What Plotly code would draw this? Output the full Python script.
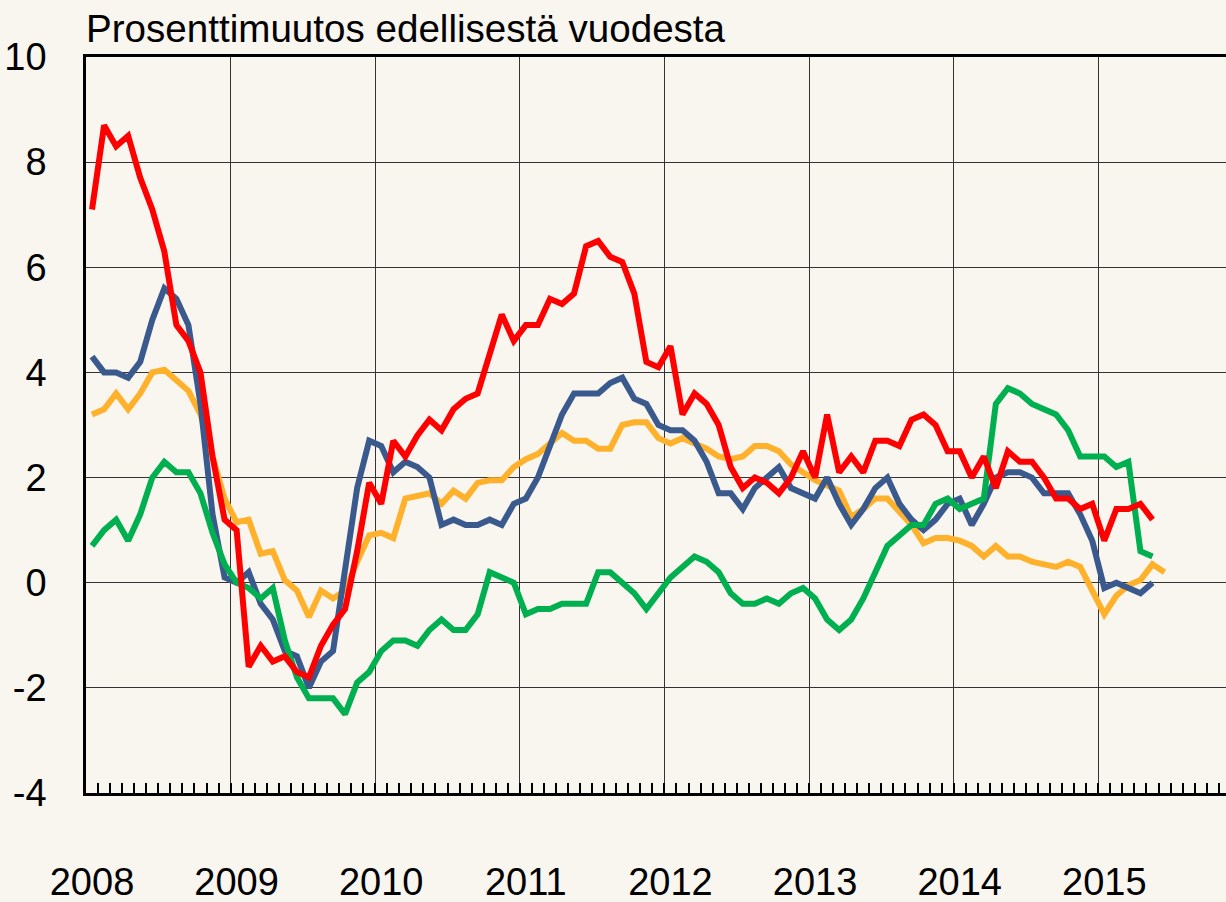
import plotly.graph_objects as go

# Monthly series starting January 2008
red = [7.1, 8.7, 8.3, 8.5, 7.7, 7.1, 6.3, 4.9, 4.6, 4.0, 2.4, 1.2,
       1.0, -1.6, -1.2, -1.5, -1.4, -1.7, -1.8, -1.2, -0.8, -0.5, 0.6, 1.9,
       1.5, 2.7, 2.4, 2.8, 3.1, 2.9, 3.3, 3.5, 3.6, 4.4, 5.1, 4.6,
       4.9, 4.9, 5.4, 5.3, 5.5, 6.4, 6.5, 6.2, 6.1, 5.5, 4.2, 4.1,
       4.5, 3.2, 3.6, 3.4, 3.0, 2.2, 1.8, 2.0, 1.9, 1.7, 2.0, 2.5,
       2.0, 3.2, 2.1, 2.4, 2.1, 2.7, 2.7, 2.6, 3.1, 3.2, 3.0, 2.5,
       2.5, 2.0, 2.4, 1.8, 2.5, 2.3, 2.3, 2.0, 1.6, 1.6, 1.4, 1.5,
       0.8, 1.4, 1.4, 1.5, 1.2]

blue = [4.3, 4.0, 4.0, 3.9, 4.2, 5.0, 5.6, 5.4, 4.9, 3.4, 1.3, 0.1,
        0.0, 0.2, -0.4, -0.7, -1.3, -1.4, -2.0, -1.5, -1.3, 0.2, 1.8, 2.7,
        2.6, 2.1, 2.3, 2.2, 2.0, 1.1, 1.2, 1.1, 1.1, 1.2, 1.1, 1.5,
        1.6, 2.0, 2.6, 3.2, 3.6, 3.6, 3.6, 3.8, 3.9, 3.5, 3.4, 3.0,
        2.9, 2.9, 2.7, 2.3, 1.7, 1.7, 1.4, 1.8, 2.0, 2.2, 1.8, 1.7,
        1.6, 2.0, 1.5, 1.1, 1.4, 1.8, 2.0, 1.5, 1.2, 1.0, 1.2, 1.5,
        1.6, 1.1, 1.5, 2.0, 2.1, 2.1, 2.0, 1.7, 1.7, 1.7, 1.3, 0.8,
        -0.1, 0.0, -0.1, -0.2, 0.0]

orange = [3.2, 3.3, 3.6, 3.3, 3.6, 4.0, 4.05, 3.85, 3.65, 3.2, 2.35, 1.6,
          1.15, 1.2, 0.55, 0.6, 0.05, -0.15, -0.65, -0.15, -0.3, -0.15, 0.4, 0.9,
          0.95, 0.85, 1.6, 1.65, 1.7, 1.5, 1.75, 1.6, 1.9, 1.95, 1.95, 2.2,
          2.35, 2.45, 2.65, 2.85, 2.7, 2.7, 2.55, 2.55, 3.0, 3.05, 3.05, 2.75,
          2.65, 2.75, 2.65, 2.55, 2.4, 2.35, 2.4, 2.6, 2.6, 2.5, 2.25, 2.1,
          1.95, 1.85, 1.75, 1.25, 1.4, 1.6, 1.6, 1.35, 1.1, 0.75, 0.85, 0.85,
          0.8, 0.7, 0.5, 0.7, 0.5, 0.5, 0.4, 0.35, 0.3, 0.4, 0.3, -0.15,
          -0.6, -0.25, -0.05, 0.05, 0.35, 0.2]

green = [0.7, 1.0, 1.2, 0.8, 1.3, 2.0, 2.3, 2.1, 2.1, 1.7, 0.95, 0.35,
         0.0, -0.1, -0.3, -0.1, -1.1, -1.8, -2.2, -2.2, -2.2, -2.5, -1.9, -1.7,
         -1.3, -1.1, -1.1, -1.2, -0.9, -0.7, -0.9, -0.9, -0.6, 0.2, 0.1, 0.0,
         -0.6, -0.5, -0.5, -0.4, -0.4, -0.4, 0.2, 0.2, 0.0, -0.2, -0.5, -0.2,
         0.1, 0.3, 0.5, 0.4, 0.2, -0.2, -0.4, -0.4, -0.3, -0.4, -0.2, -0.1,
         -0.3, -0.7, -0.9, -0.7, -0.3, 0.2, 0.7, 0.9, 1.1, 1.1, 1.5, 1.6,
         1.4, 1.5, 1.6, 3.4, 3.7, 3.6, 3.4, 3.3, 3.2, 2.9, 2.4, 2.4,
         2.4, 2.2, 2.3, 0.6, 0.5]

years = ["2008", "2009", "2010", "2011", "2012", "2013", "2014", "2015"]
y_ticks = [-4, -2, 0, 2, 4, 6, 8, 10]
title_text = "Prosenttimuutos edellisestä vuodesta"

FONT = "Liberation Sans, Arial, sans-serif"
BG = "#F9F5EF"


def months(vals):
    return [i + 0.5 for i in range(len(vals))]


fig = go.Figure()
for vals, col in [(orange, "#FFB12B"), (blue, "#3A5A8E"), (green, "#00B050"), (red, "#FF0000")]:
    fig.add_trace(go.Scatter(x=months(vals), y=vals, mode="lines",
                             line=dict(color=col, width=6), showlegend=False,
                             hoverinfo="skip"))

fig.update_layout(
    width=1226, height=902,
    margin=dict(l=86, r=0, t=57, b=109, autoexpand=False),
    paper_bgcolor=BG, plot_bgcolor=BG,
    font=dict(family=FONT, size=38, color="black"),
    annotations=[dict(text=title_text, xref="paper", yref="paper", x=0, y=1,
                      xanchor="left", yanchor="bottom", yshift=5, xshift=-2,
                      showarrow=False,
                      font=dict(family=FONT, size=38.6, color="black"))],
)

fig.update_xaxes(
    range=[0, 94.6], automargin=False,
    tickmode="array",
    tickvals=[12 * i for i in range(len(years))],
    ticktext=years,
    ticks="inside", ticklen=10, tickwidth=1.5, tickcolor="black",
    ticklabelshift=6, ticklabelstandoff=54,
    showgrid=True, gridcolor="#333333", gridwidth=1.2,
    showline=True, linecolor="black", linewidth=2.5, mirror=True,
    zeroline=False,
    minor=dict(dtick=1, tick0=0, ticks="inside", ticklen=10, tickwidth=1.5,
               tickcolor="black", showgrid=False),
    tickfont=dict(family=FONT, size=38, color="black"),
)
fig.update_yaxes(
    range=[-4, 10], automargin=False,
    tickmode="array", tickvals=y_ticks, ticktext=[str(v) for v in y_ticks],
    ticks="", ticklabelstandoff=29,
    showgrid=True, gridcolor="#333333", gridwidth=1.2,
    showline=True, linecolor="black", linewidth=2.5, mirror=False,
    zeroline=False,
    tickfont=dict(family=FONT, size=38, color="black"),
)

fig.write_html(
    "out.html",
    config={"displayModeBar": False},
    post_script="document.body.style.margin='0';document.body.style.background='%s';"
                "document.documentElement.style.overflow='hidden';" % BG,
)
